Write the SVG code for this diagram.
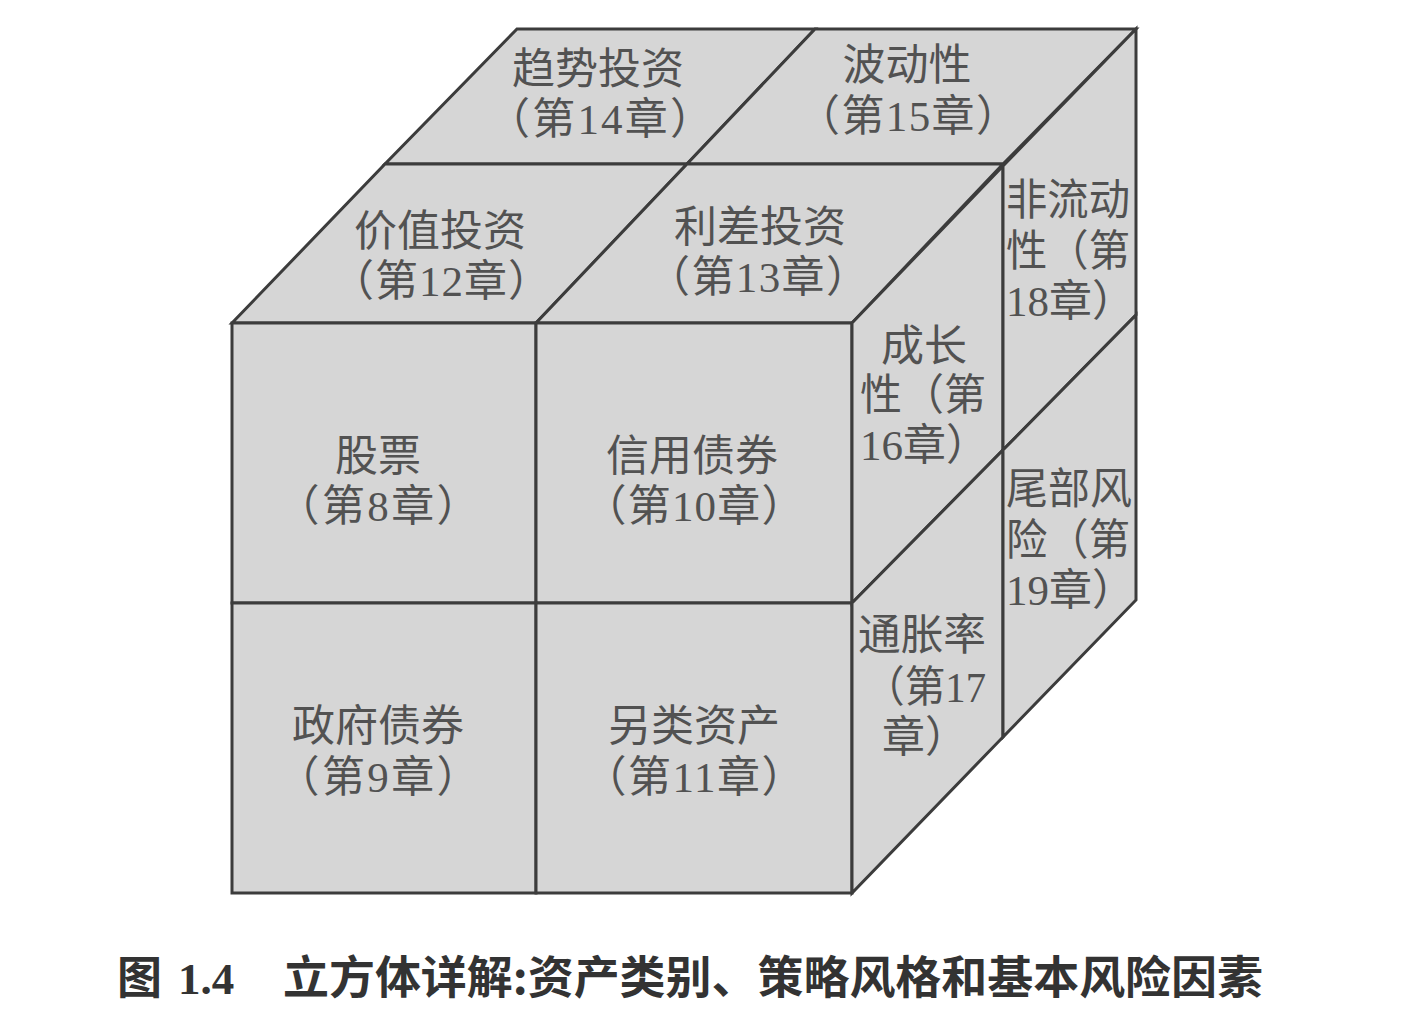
<svg xmlns="http://www.w3.org/2000/svg" width="1409" height="1025" viewBox="0 0 1409 1025">
<style>
.cell{fill:#d6d6d6;stroke:#3c3c3c;stroke-width:3;stroke-linejoin:miter}
.lbl{font-family:"Liberation Serif","Noto Sans CJK SC",serif;font-size:43px;fill:#525252}
.mid{text-anchor:middle}
.cap{font-family:"Noto Sans CJK SC",sans-serif;font-size:45px;font-weight:bold;fill:#333}
</style>
<rect width="1409" height="1025" fill="#ffffff"/>
<g id="connectors"></g>
<g id="trend">
<polygon class="cell" points="385,164 687,164 815,29 517,29"/>
<text class="lbl mid" x="598" y="84">趋势投资</text>
<text class="lbl mid" x="600" y="134" textLength="226" lengthAdjust="spacing">（第14章）</text>
</g>
<g id="volatility">
<polygon class="cell" points="687,164 1003,164 1136,29 815,29"/>
<text class="lbl mid" x="907" y="80">波动性</text>
<text class="lbl mid" x="908" y="131" textLength="222" lengthAdjust="spacing">（第15章）</text>
</g>
<g id="value">
<polygon class="cell" points="232,323 536,323 687,164 385,164"/>
<text class="lbl mid" x="440" y="246">价值投资</text>
<text class="lbl mid" x="441" y="296" textLength="220" lengthAdjust="spacing">（第12章）</text>
</g>
<g id="carry">
<polygon class="cell" points="536,323 852,323 1003,164 687,164"/>
<text class="lbl mid" x="760" y="242">利差投资</text>
<text class="lbl mid" x="758" y="292" textLength="222" lengthAdjust="spacing">（第13章）</text>
</g>
<g id="equity">
<rect class="cell" x="232" y="323" width="304" height="280"/>
<text class="lbl mid" x="378" y="471">股票</text>
<text class="lbl mid" x="378" y="521" textLength="203" lengthAdjust="spacing">（第8章）</text>
</g>
<g id="credit">
<rect class="cell" x="536" y="323" width="316" height="280"/>
<text class="lbl mid" x="692" y="471">信用债券</text>
<text class="lbl mid" x="694" y="521" textLength="221" lengthAdjust="spacing">（第10章）</text>
</g>
<g id="government">
<rect class="cell" x="232" y="603" width="304" height="290"/>
<text class="lbl mid" x="378" y="741">政府债券</text>
<text class="lbl mid" x="378" y="792" textLength="203" lengthAdjust="spacing">（第9章）</text>
</g>
<g id="alternative">
<rect class="cell" x="536" y="603" width="316" height="290"/>
<text class="lbl mid" x="694" y="741">另类资产</text>
<text class="lbl mid" x="694" y="792" textLength="221" lengthAdjust="spacing">（第11章）</text>
</g>
<g id="growth">
<polygon class="cell" points="852,323 1003,166 1003,450 852,603"/>
<text class="lbl" x="881" y="361">成长</text>
<text class="lbl" x="860" y="410" textLength="126" lengthAdjust="spacingAndGlyphs">性（第</text>
<text class="lbl" x="860" y="460">16章）</text>
</g>
<g id="illiquidity">
<polygon class="cell" points="1003,166 1136,29 1136,315 1003,450"/>
<text class="lbl" x="1006" y="215" textLength="124" lengthAdjust="spacingAndGlyphs">非流动</text>
<text class="lbl" x="1006" y="266" textLength="124" lengthAdjust="spacingAndGlyphs">性（第</text>
<text class="lbl" x="1006" y="316">18章）</text>
</g>
<g id="inflation">
<polygon class="cell" points="852,603 1003,450 1003,737 852,893"/>
<text class="lbl" x="858" y="650" textLength="128" lengthAdjust="spacingAndGlyphs">通胀率</text>
<text class="lbl" x="864" y="702" textLength="122" lengthAdjust="spacingAndGlyphs">（第17</text>
<text class="lbl" x="882" y="752">章）</text>
</g>
<g id="tailrisk">
<polygon class="cell" points="1003,450 1136,315 1136,600 1003,737"/>
<text class="lbl" x="1006" y="504" textLength="126" lengthAdjust="spacingAndGlyphs">尾部风</text>
<text class="lbl" x="1006" y="555" textLength="124" lengthAdjust="spacingAndGlyphs">险（第</text>
<text class="lbl" x="1006" y="605">19章）</text>
</g>
<g id="caption">
<text class="cap" x="117" y="994">图</text>
<text class="cap" x="178" y="994" style="font-family:'Liberation Serif','Noto Sans CJK SC',serif">1.4</text>
<text class="cap" x="283" y="994" textLength="980" lengthAdjust="spacingAndGlyphs">立方体详解:资产类别、策略风格和基本风险因素</text>
</g>
</svg>
